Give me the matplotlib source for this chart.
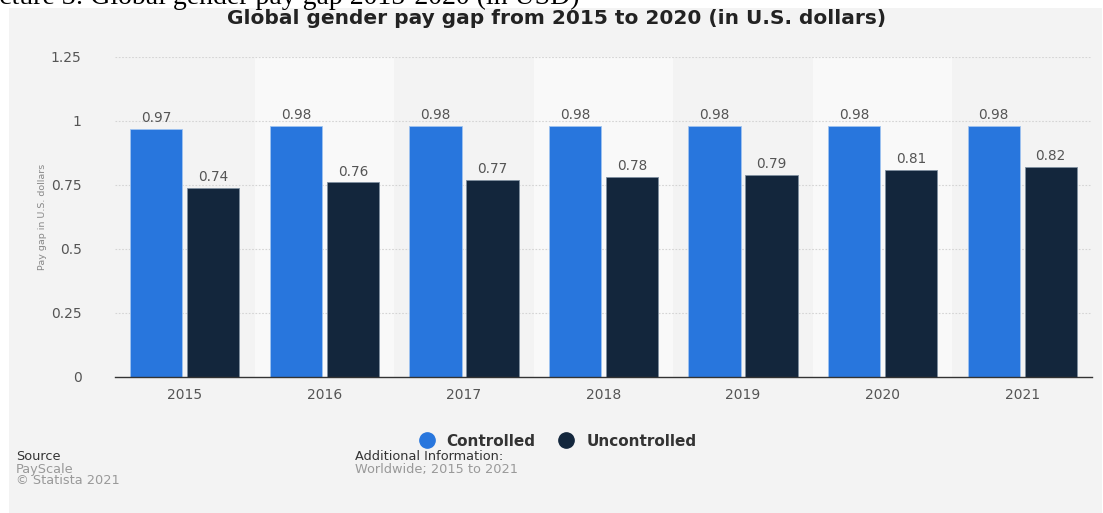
import matplotlib
matplotlib.use('Agg')
import matplotlib.pyplot as plt
import numpy as np
from matplotlib.lines import Line2D

plt.rcParams['font.family'] = ['DejaVu Sans']

years = ['2015', '2016', '2017', '2018', '2019', '2020', '2021']
controlled = [0.97, 0.98, 0.98, 0.98, 0.98, 0.98, 0.98]
uncontrolled = [0.74, 0.76, 0.77, 0.78, 0.79, 0.81, 0.82]
yticks = [0, 0.25, 0.5, 0.75, 1, 1.25]
ytick_labels = ['0', '0.25', '0.5', '0.75', '1', '1.25']

BLUE = '#2876dd'
NAVY = '#13263c'
BG = '#f3f3f3'
BAND = '#f9f9f9'

W, H = 1103, 513
fig = plt.figure(figsize=(W / 100, H / 100), dpi=100)
fig.patch.set_facecolor('white')

# grey statista panel
fig.add_artist(plt.Rectangle((9 / W, 0), (W - 10) / W, (H - 8) / H,
                             transform=fig.transFigure, facecolor=BG,
                             edgecolor='none', zorder=0))

# caption from the surrounding document, cut off at the top
fig.text(580 / W, 1 - 4 / H, 'Picture 3: Global gender pay gap 2015-2020 (in USD)',
         ha='right', va='baseline', fontsize=20, family='Liberation Serif',
         color='black')

ax = fig.add_axes([115 / W, 136 / H, (1092 - 115) / W, (377 - 57) / H])
ax.set_facecolor('none')
n = len(years)
x = np.arange(n)
ax.set_xlim(-0.5, n - 0.5)
ax.set_ylim(0, 1.25)

# alternating column bands
for i in range(1, n, 2):
    ax.axvspan(i - 0.5, i + 0.5, color=BAND, zorder=0, lw=0)

for y in yticks[1:]:
    ax.axhline(y, color='#d4d4d4', lw=0.8, ls=(0, (1.5, 1.5)), zorder=1)

bw = 0.375
off = 0.204
ax.bar(x - off, controlled, bw, color=BLUE, edgecolor='#9fc3f0',
       linewidth=0.6, zorder=2)
ax.bar(x + off, uncontrolled, bw, color=NAVY, edgecolor='#8090a0',
       linewidth=0.6, zorder=2)

for xi, v in zip(x - off, controlled):
    ax.text(xi, v + 0.015, f'{v:.2f}', ha='center', va='bottom',
            fontsize=9.8, color='#555555')
for xi, v in zip(x + off, uncontrolled):
    ax.text(xi, v + 0.015, f'{v:.2f}', ha='center', va='bottom',
            fontsize=9.8, color='#555555')

for s in ['top', 'right', 'left']:
    ax.spines[s].set_visible(False)
ax.spines['bottom'].set_color('#333333')
ax.spines['bottom'].set_linewidth(1.0)

ax.set_xticks(x)
ax.set_xticklabels(years)
ax.set_yticks(yticks)
ax.set_yticklabels(ytick_labels)
ax.tick_params(axis='both', length=0, labelsize=10, colors='#555555')
ax.tick_params(axis='x', pad=8)
ax.tick_params(axis='y', pad=24)
ax.set_ylabel('Pay gap in U.S. dollars', fontsize=6.8, color='#888888',
              family='Liberation Sans Narrow', labelpad=3)

fig.text(557 / W, 1 - 19 / H,
         'Global gender pay gap from 2015 to 2020 (in U.S. dollars)',
         ha='center', va='center', fontsize=14.5, fontweight='bold',
         color='#222222')

handles = [Line2D([], [], marker='o', ls='none', color=BLUE, markersize=11),
           Line2D([], [], marker='o', ls='none', color=NAVY, markersize=11)]
leg = fig.legend(handles, ['Controlled', 'Uncontrolled'], loc='center',
                 bbox_to_anchor=(557 / W, 1 - 441 / H), ncol=2, frameon=False,
                 handletextpad=0.7, columnspacing=1.4, handlelength=1.2,
                 prop={'size': 11, 'weight': 'bold'})
for t in leg.get_texts():
    t.set_color('#333333')

fig.text(16 / W, 1 - 457 / H, 'Source', fontsize=9.3, color='#333333', va='center')
fig.text(16 / W, 1 - 469 / H, 'PayScale', fontsize=9.3, color='#999999', va='center')
fig.text(16 / W, 1 - 481 / H, '\u00a9 Statista 2021', fontsize=9.3, color='#999999', va='center')
fig.text(355 / W, 1 - 457 / H, 'Additional Information:', fontsize=9.3,
         color='#333333', va='center')
fig.text(355 / W, 1 - 469 / H, 'Worldwide; 2015 to 2021', fontsize=9.3,
         color='#999999', va='center')

fig.savefig('out.png', dpi=100, facecolor='white')
